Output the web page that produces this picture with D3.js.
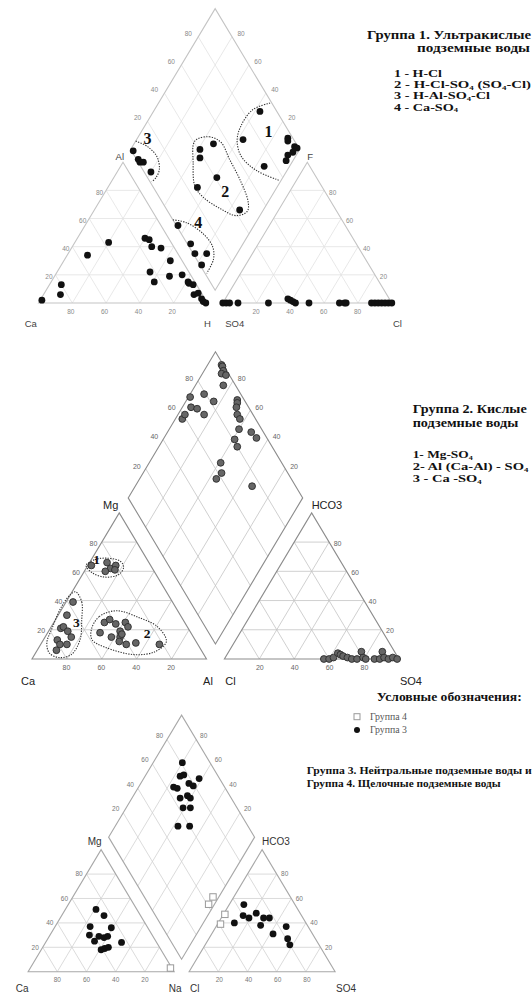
<!DOCTYPE html>
<html><head><meta charset="utf-8">
<script src="https://cdn.jsdelivr.net/npm/d3@7/dist/d3.min.js"></script>
<style>html,body{margin:0;padding:0;background:#fff}svg{display:block}</style>
</head><body>
<svg id="chart" width="532" height="993" xmlns="http://www.w3.org/2000/svg"></svg>
<script>
const TICKS = [20, 40, 60, 80];

// ===== Diagram 1: Группа 1 (ультракислые) =====
// axis names: cation left, cation right, cation top, anion left, anion right, anion top
const d1Names = ['Ca', 'H', 'Al', 'SO4', 'Cl', 'F'];
// cation triangle points: [Al %, H %]
const d1Cation = [[2,1],[6,10],[13,7],[34,12],[43,20],[46,40],[45,43],[40,47],[39,53],[30,63],[22,55],[15,61],[19,68],[20,75],[14,82],[13,85],[15,81],[6,89],[7,91],[3,95],[1,97],[0,99]];
// anion triangle points: [F %, Cl %]
const d1Anion = [[0,0],[0,2],[0,4],[0,9],[0,27],[3,37],[2,39],[1,41],[0,43],[0,51],[0,69],[0,72],[0,73],[0,88],[0,90],[0,92],[0,94],[0,96],[0,98],[0,100]];
// diamond points: [p, q]
const d1DiaG1 = [[37,90],[37,70],[11,97],[10,96],[4,98],[2,99],[3,95],[5,91],[4,88],[15,73]];
const d1DiaG2 = [[59,41],[53,51],[56,38],[39,41],[47,26],[14,43]];
const d1DiaG3 = [[98,1],[92,1],[90,1],[88,3],[80,4]];
const d1DiaG4 = [[45,1],[31,2],[25,1],[18,8],[17,1]];
// group outlines (diamond coords)
const d1Out1 = [[34,99],[42,86],[43,73],[40,66],[32,63],[18,67],[1,77]];
const d1Out2 = [[65,41],[58,51],[49,56],[38,55],[25,54],[12,51],[9,47],[14,39],[26,32],[40,26],[49,25],[58,32]];
const d1Out3 = [[100,6],[91,11],[82,13],[76,10],[75,5],[76,1]];
const d1Out4 = [[50,0],[41,7],[27,13],[17,14],[12,10],[11,1]];
const d1Numbers = ['1', '2', '3', '4'];
const d1NumberPos = [[25,88],[29,41],[94,14],[34,14]];

// ===== Diagram 2: Группа 2 (кислые) =====
const d2Names = ['Ca', 'Al', 'Mg', 'Cl', 'SO4', 'HCO3'];
// cation points: [Mg %, Al %]
const d2CatG1 = [[64,2],[66,10],[62,14],[64,16],[60,12],[61,17]];
const d2CatG2 = [[25,29],[27,31],[24,36],[25,41],[18,30],[15,38],[19,41],[15,43],[12,44],[10,49],[22,44],[11,54],[10,68],[17,43]];
const d2CatG3 = [[39,4],[30,5],[21,6],[22,7],[19,11],[15,15],[13,8],[10,11],[10,15],[6,11]];
// anion points: [HCO3 %, SO4 %]
const d2Anion = [[0,57],[0,60],[1,62],[4,63],[3,65],[2,67],[1,70],[0,73],[0,76],[5,76],[1,79],[0,81],[0,86],[0,89],[5,88],[1,91],[0,94],[1,96],[0,99]];
// diamond points [p, q]
const d2Dia = [[92,99],[91,99],[89,98],[89,96],[86,98],[84,93],[99,70],[92,79],[84,82],[96,58],[96,61],[95,67],[91,70],[85,72],[71,96],[70,95],[69,93],[66,91],[63,91],[60,87],[52,93],[47,94],[59,81],[55,80],[59,65],[55,62],[56,57],[33,75]];
const d2Out1 = [[64,-1],[68,2],[69,8],[67,17],[63,21],[58,21],[56,14],[59,5]];
const d2Out2 = [[20,24],[29,24],[33,32],[28,48],[22,61],[12,71],[5,68],[3,57],[8,38],[13,28]];
const d2Out3 = [[46,2],[39,9],[27,15],[13,21],[3,21],[1,15],[4,8],[11,3],[21,1],[36,-1],[44,0]];
const d2Numbers = ['1', '2', '3'];
const d2NumberPos = [[68,3],[18,57],[25,13]];

// ===== Diagram 3: Группа 3 и 4 =====
const d3Names = ['Ca', 'Na', 'Mg', 'Cl', 'SO4', 'HCO3'];
// cation: [Mg %, Na %]
const d3CatG3 = [[51,21],[46,29],[37,24],[36,39],[30,27],[25,33],[29,34],[28,38],[29,40],[24,52],[18,41],[19,43],[20,45]];
const d3CatG4 = [[3,96]];
// anion: [HCO3 %, SO4 %]
const d3AniG3 = [[55,10],[40,11],[46,14],[44,19],[48,22],[44,29],[44,33],[38,30],[37,48],[31,42],[27,54],[22,58]];
const d3AniG4 = [[47,1],[39,2]];
const d3DiaG3 = [[80,81],[76,74],[74,77],[76,65],[73,67],[67,77],[63,79],[62,86],[67,65],[63,71],[60,72],[61,63],[56,68],[57,52],[49,60]];
const d3DiaG4 = [[4,47],[4,41]];

// ===== Text blocks =====
const text1 = ['Группа 1. Ультракислые', 'подземные воды'];
const items1 = ['1 - H-Cl', '2 - H-Cl-SO_4 (SO_4-Cl)', '3 - H-Al-SO_4-Cl', '4 - Ca-SO_4'];
const text2 = ['Группа 2. Кислые', 'подземные воды'];
const items2 = ['1- Mg-SO_4', '2- Al (Ca-Al) - SO_4', '3 - Ca -SO_4'];
const legendTitle = 'Условные обозначения:';
const legendItems = ['Группа 4', 'Группа 3'];
const text3 = ['Группа 3. Нейтральные подземные воды и', 'Группа 4. Щелочные подземные воды'];

const SQ = Math.sqrt(3) / 2;
const svg = d3.select('#chart');
const SANS = 'Liberation Sans, Arial, sans-serif';
const SERIF = 'Liberation Serif, Times New Roman, serif';

function drawPiper(cfg) {
  const G = cfg.gap / cfg.side * 100;
  const xs = d3.scaleLinear().domain([0, 100]).range([cfg.x0, cfg.x0 + cfg.side]);
  const ys = d3.scaleLinear().domain([0, 100]).range([cfg.y0, cfg.y0 - cfg.side * cfg.ky]);
  const P = (X, Y) => [xs(X), ys(Y)];
  const proj = {
    cat: ([t, r]) => P(r + t / 2, t * SQ),
    ani: ([t, r]) => P(100 + G + r + t / 2, t * SQ),
    dia: ([p, q]) => P(100 + G / 2 - p / 2 + q / 2, G * SQ + (p + q) * SQ)
  };
  const { cat, ani, dia } = proj;
  const g = svg.append('g');
  const line = d3.line();

  const grid = [];
  TICKS.forEach(v => {
    [cat, ani].forEach(f => {
      grid.push([f([v, 0]), f([v, 100 - v])]);
      grid.push([f([0, v]), f([100 - v, v])]);
      grid.push([f([0, 100 - v]), f([100 - v, 0])]);
    });
    grid.push([dia([v, 0]), dia([v, 100])]);
    grid.push([dia([0, v]), dia([100, v])]);
  });
  g.append('g').selectAll('path').data(grid).join('path')
    .attr('d', d => line(d)).attr('fill', 'none')
    .attr('stroke', cfg.gridColor).attr('stroke-width', cfg.gridWidth);

  const frames = [
    [cat([0, 0]), cat([0, 100]), cat([100, 0])],
    [ani([0, 0]), ani([0, 100]), ani([100, 0])],
    [dia([0, 0]), dia([100, 0]), dia([100, 100]), dia([0, 100])]
  ];
  g.append('g').selectAll('path').data(frames).join('path')
    .attr('d', d => line(d) + 'Z').attr('fill', 'none')
    .attr('stroke', cfg.frameColor).attr('stroke-width', cfg.frameWidth);

  // tick labels
  const tl = [];
  TICKS.forEach(v => {
    const a = cat([0, 100 - v]); tl.push({ x: a[0] + cfg.tb[0], y: a[1] + cfg.tb[1], v });
    const b = cat([v, 0]); tl.push({ x: b[0] + cfg.tl[0], y: b[1] + cfg.tl[1], v });
    const c = ani([0, v]); tl.push({ x: c[0] + cfg.tb[0] + 1, y: c[1] + cfg.tb[1], v });
    const d = ani([v, 100 - v]); tl.push({ x: d[0] + cfg.tr[0], y: d[1] + cfg.tr[1], v });
    const e = dia([100, v]); tl.push({ x: e[0] + cfg.tdl[0], y: e[1] + cfg.tdl[1], v });
    const f = dia([v, 100]); tl.push({ x: f[0] + cfg.tdr[0], y: f[1] + cfg.tdr[1], v });
  });
  g.append('g').selectAll('text').data(tl).join('text')
    .attr('x', d => d.x).attr('y', d => d.y).attr('dy', '0.35em')
    .attr('text-anchor', 'middle').attr('font-family', SANS)
    .attr('font-size', cfg.tickSize).attr('fill', cfg.tickColor)
    .text(d => d.v);

  // axis names: order = cation left, cation right, cation apex, anion left, anion right, anion apex
  const corners = [cat([0, 0]), cat([0, 100]), cat([100, 0]), ani([0, 0]), ani([0, 100]), ani([100, 0])];
  g.append('g').selectAll('text').data(cfg.names).join('text')
    .attr('x', (d, i) => corners[i][0] + cfg.nameOff[i][0])
    .attr('y', (d, i) => corners[i][1] + cfg.nameOff[i][1])
    .attr('dy', '0.35em')
    .attr('text-anchor', (d, i) => cfg.nameOff[i][2])
    .attr('font-family', SANS).attr('font-size', cfg.nameSize)
    .attr('fill', cfg.nameColor).attr('font-weight', cfg.nameWeight || 'normal')
    .text(d => d);

  // outlines
  (cfg.outlines || []).forEach(o => {
    const f = proj[o.space];
    const ln = d3.line().curve(o.closed ? d3.curveCatmullRomClosed : d3.curveCatmullRom);
    g.append('path').attr('d', ln(o.data.map(f))).attr('fill', 'none')
      .attr('stroke', '#333').attr('stroke-width', 1.1)
      .attr('stroke-dasharray', '1.3,1.3');
  });

  // points
  cfg.series.forEach(s => {
    const f = proj[s.space];
    const pts = s.data.map(f);
    if (s.shape === 'square') {
      g.append('g').selectAll('rect').data(pts).join('rect')
        .attr('x', d => d[0] - s.r).attr('y', d => d[1] - s.r)
        .attr('width', s.r * 2).attr('height', s.r * 2)
        .attr('fill', s.fill).attr('stroke', s.stroke).attr('stroke-width', s.sw);
    } else {
      g.append('g').selectAll('circle').data(pts).join('circle')
        .attr('cx', d => d[0]).attr('cy', d => d[1]).attr('r', s.r)
        .attr('fill', s.fill).attr('stroke', s.stroke || 'none').attr('stroke-width', s.sw || 0);
    }
  });

  // group numbers
  if (cfg.numbers) {
    const f = proj[cfg.numbers.space];
    g.append('g').selectAll('text').data(cfg.numbers.labels).join('text')
      .attr('x', (d, i) => f(cfg.numbers.pos[i])[0])
      .attr('y', (d, i) => f(cfg.numbers.pos[i])[1])
      .attr('dy', '0.36em').attr('text-anchor', 'middle')
      .attr('font-family', SERIF).attr('font-weight', 'bold')
      .attr('font-size', cfg.numbers.size).attr('fill', '#111')
      .text(d => d);
  }
}

// ---- Diagram 1 ----
drawPiper({
  x0: 38.5, y0: 303, side: 169, gap: 15.3, ky: 0.962,
  gridColor: '#e2e2e2', gridWidth: 0.8, frameColor: '#c4c4c4', frameWidth: 1.1,
  tickSize: 6.5, tickColor: '#8a8a8a',
  tb: [-1.5, 9], tl: [-6.5, 2], tr: [8.5, 2], tdl: [-10, -3.5], tdr: [9, -3.5],
  names: d1Names, nameSize: 9.5, nameColor: '#444',
  nameOff: [[-7.7, 21, 'middle'], [0, 21, 'middle'], [1, -6, 'end'], [12, 21, 'middle'], [5.7, 21, 'middle'], [0, -6, 'start']],
  outlines: [
    { data: d1Out1, space: 'dia', closed: false },
    { data: d1Out2, space: 'dia', closed: true },
    { data: d1Out3, space: 'dia', closed: false },
    { data: d1Out4, space: 'dia', closed: false }
  ],
  series: [
    { data: d1Cation, space: 'cat', r: 3.4, fill: '#111' },
    { data: d1Anion, space: 'ani', r: 3.4, fill: '#111' },
    { data: d1DiaG1, space: 'dia', r: 3.4, fill: '#111' },
    { data: d1DiaG2, space: 'dia', r: 3.4, fill: '#111' },
    { data: d1DiaG3, space: 'dia', r: 3.4, fill: '#111' },
    { data: d1DiaG4, space: 'dia', r: 3.4, fill: '#111' }
  ],
  numbers: { labels: d1Numbers, pos: d1NumberPos, space: 'dia', size: 16 }
});

// ---- Diagram 2 ----
drawPiper({
  x0: 32, y0: 659, side: 174.5, gap: 17.9, ky: 0.967,
  gridColor: '#c4c4c4', gridWidth: 0.8, frameColor: '#8c8c8c', frameWidth: 1.1,
  tickSize: 7, tickColor: '#666',
  tb: [-0.5, 9], tl: [-8.3, 1], tr: [8.5, 1], tdl: [-8.8, -2.5], tdr: [8.8, -2.5],
  names: d2Names, nameSize: 11, nameColor: '#222',
  nameOff: [[-4, 22, 'middle'], [1.5, 22, 'middle'], [-1, -8, 'end'], [6, 22, 'middle'], [1, 22, 'start'], [0, -8, 'start']],
  outlines: [
    { data: d2Out1, space: 'cat', closed: true },
    { data: d2Out2, space: 'cat', closed: true },
    { data: d2Out3, space: 'cat', closed: true }
  ],
  series: [
    { data: d2CatG1, space: 'cat', r: 3.4, fill: '#666', stroke: '#2b2b2b', sw: 0.9 },
    { data: d2CatG2, space: 'cat', r: 3.4, fill: '#666', stroke: '#2b2b2b', sw: 0.9 },
    { data: d2CatG3, space: 'cat', r: 3.4, fill: '#666', stroke: '#2b2b2b', sw: 0.9 },
    { data: d2Anion, space: 'ani', r: 3.4, fill: '#666', stroke: '#2b2b2b', sw: 0.9 },
    { data: d2Dia, space: 'dia', r: 3.4, fill: '#666', stroke: '#2b2b2b', sw: 0.9 }
  ],
  numbers: { labels: d2Numbers, pos: d2NumberPos, space: 'cat', size: 13.5 }
});

// ---- Diagram 3 ----
drawPiper({
  x0: 28.1, y0: 971.7, side: 146, gap: 15, ky: 0.965,
  gridColor: '#d2d2d2', gridWidth: 0.8, frameColor: '#a8a8a8', frameWidth: 1.1,
  tickSize: 6.5, tickColor: '#777',
  tb: [0, 8], tl: [-7.5, 0], tr: [8, 0], tdl: [-7.5, -4], tdr: [7.5, -4],
  names: d3Names, nameSize: 10, nameColor: '#333',
  nameOff: [[-6, 17, 'middle'], [1, 17, 'middle'], [0.5, -8, 'end'], [5.6, 17, 'middle'], [11, 17, 'middle'], [0, -8, 'start']],
  series: [
    { data: d3CatG3, space: 'cat', r: 3.4, fill: '#111' },
    { data: d3AniG3, space: 'ani', r: 3.4, fill: '#111' },
    { data: d3DiaG3, space: 'dia', r: 3.4, fill: '#111' },
    { data: d3CatG4, space: 'cat', r: 3.2, shape: 'square', fill: '#fff', stroke: '#999', sw: 1 },
    { data: d3AniG4, space: 'ani', r: 3.2, shape: 'square', fill: '#fff', stroke: '#999', sw: 1 },
    { data: d3DiaG4, space: 'dia', r: 3.2, shape: 'square', fill: '#fff', stroke: '#999', sw: 1 }
  ]
});

// ---- rich text with subscripts ----
function rich(x, y, str, o) {
  const t = svg.append('text').attr('x', x).attr('y', y)
    .attr('font-family', SERIF).attr('font-weight', o.weight || 'bold')
    .attr('font-size', o.size).attr('fill', o.fill || '#111')
    .attr('text-anchor', o.anchor || 'start');
  if (o.width) t.attr('textLength', o.width).attr('lengthAdjust', 'spacingAndGlyphs');
  const parts = str.split(/_(\d)/);
  let sub = false;
  parts.forEach((s, i) => {
    if (!s) return;
    const isSub = i % 2 === 1;
    const ts = t.append('tspan').text(s);
    if (isSub) { ts.attr('font-size', o.size * 0.6).attr('dy', sub ? 0 : 1.5); sub = true; }
    else { if (sub) ts.attr('dy', -1.5); sub = false; }
  });
  return t;
}

// Text block 1
rich(531, 38.5, text1[0], { size: 11.5, width: 164, anchor: 'end' });
rich(530, 51.5, text1[1], { size: 11.5, width: 113, anchor: 'end' });
const items1W = [48, 137, 96, 64];
items1.forEach((s, i) => rich(394, 77 + i * 11.2, s, { size: 10.5, width: items1W[i] }));

// Text block 2
rich(412.7, 413, text2[0], { size: 12, width: 114 });
rich(412.7, 427, text2[1], { size: 12, width: 105.6 });
const items2W = [60, 115.6, 69];
items2.forEach((s, i) => rich(412.7, 458 + i * 12, s, { size: 11, width: items2W[i] }));

// Legend
rich(376.7, 701, legendTitle, { size: 13, width: 145 });
svg.append('rect').attr('x', 354).attr('y', 713.7).attr('width', 6).attr('height', 6)
  .attr('fill', '#fff').attr('stroke', '#999').attr('stroke-width', 1);
svg.append('circle').attr('cx', 357).attr('cy', 730).attr('r', 3).attr('fill', '#111');
legendItems.forEach((s, i) => rich(370, 720 + i * 13, s, { size: 9.5, weight: 'normal', fill: '#555', width: 37 }));

// Text block 3
rich(306.7, 774, text3[0], { size: 10.5, width: 225 });
rich(306.7, 786.5, text3[1], { size: 10.5, width: 194 });
</script>
</body></html>
